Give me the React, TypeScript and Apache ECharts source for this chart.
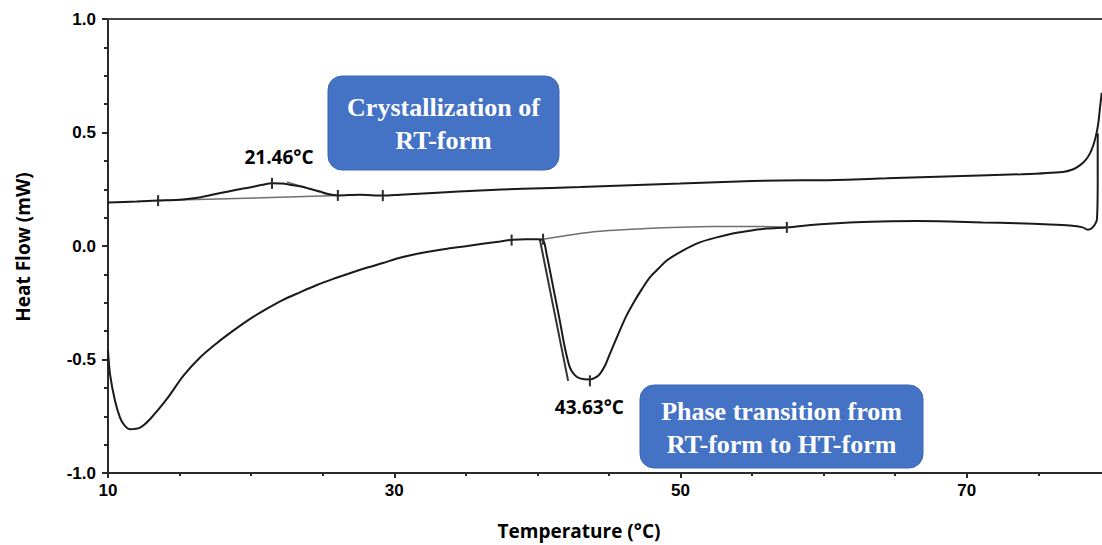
import React, { useEffect, useRef } from "react";
import * as echarts from "echarts";

// ---- Data ----
const xTickLabels = ["10", "30", "50", "70"];
const yTickLabels = ["-1.0", "-0.5", "0.0", "0.5", "1.0"];

// Cooling trace (upper curve): [temperature °C, heat flow mW]
const coolingCurve: [number, number][] = [
  [10, 0.192], [12, 0.196], [13.5, 0.2], [15.2, 0.205], [16.5, 0.215], [17.6, 0.23],
  [19, 0.248], [19.9, 0.258], [20.8, 0.27], [21.46, 0.276], [22.2, 0.275], [22.7, 0.27],
  [23.5, 0.262], [24.1, 0.252], [24.8, 0.24], [25.3, 0.23], [26.06, 0.223], [27.6, 0.226],
  [29.2, 0.222], [30.4, 0.226], [33, 0.235], [36, 0.245], [39, 0.252], [43, 0.26],
  [46, 0.267], [50, 0.275], [53, 0.282], [57, 0.289], [60, 0.29], [64.4, 0.298],
  [69.1, 0.307], [73.8, 0.316], [76.7, 0.326], [77.4, 0.337], [77.9, 0.355], [78.3, 0.378],
  [78.6, 0.407], [78.85, 0.445], [79.06, 0.495], [79.2, 0.545], [79.29, 0.598], [79.43, 0.675],
];

// Heating trace (lower curve)
const heatingCurve: [number, number][] = [
  [10, -0.46], [10.14, -0.564], [10.49, -0.682], [10.84, -0.756], [11.15, -0.79], [11.54, -0.807],
  [12.24, -0.8], [12.93, -0.763], [14.1, -0.675], [15.26, -0.572], [16.43, -0.491], [17.6, -0.428],
  [18.75, -0.373], [19.9, -0.322], [21.08, -0.277], [22.2, -0.238], [23.41, -0.204], [24.6, -0.172],
  [25.74, -0.145], [26.9, -0.12], [28.07, -0.096], [29.2, -0.075], [30.4, -0.052], [31.8, -0.032],
  [33.7, -0.012], [35.1, 0.0], [36.3, 0.011], [37.4, 0.02], [38.3, 0.028], [39.2, 0.03],
  [40.0, 0.03], [40.4, 0.026], [40.64, -0.034], [41.1, -0.18], [41.57, -0.33], [41.92, -0.447],
  [42.27, -0.535], [42.6, -0.568], [42.97, -0.583], [43.67, -0.588], [44.05, -0.58], [44.36, -0.564],
  [44.7, -0.53], [45.06, -0.476], [45.65, -0.388], [46.2, -0.31], [46.67, -0.255], [47.3, -0.19],
  [47.86, -0.138], [48.5, -0.097], [49.04, -0.064], [50.16, -0.02], [51.35, 0.016], [52.54, 0.038],
  [53.65, 0.055], [54.6, 0.065], [56.03, 0.077], [57.43, 0.082], [59.52, 0.095], [61.83, 0.104],
  [64, 0.108], [66.51, 0.11], [68.8, 0.108], [71.12, 0.104], [73.5, 0.1], [75.8, 0.095],
  [77.2, 0.09], [78.1, 0.082], [78.45, 0.072], [78.8, 0.082], [79.1, 0.12], [79.15, 0.3],
  [79.15, 0.497],
];

// Integration baselines and tangent construction lines
const crystBaseline: [number, number][] = [[13.5, 0.2], [26.06, 0.222]];
const crystTangent: [number, number][] = [[22.5, 0.282], [24.8, 0.238]];
const transBaseline: [number, number][] = [
  [40.4, 0.03], [42.97, 0.055], [45, 0.068], [47.6, 0.077], [50, 0.083], [52.3, 0.086], [55, 0.086], [57.43, 0.083],
];
const transTangent: [number, number][] = [[40.17, 0.03], [42.15, -0.594]];

// Analysis tick marks on the curves
const analysisTicks: [number, number][] = [
  [13.5, 0.2], [21.46, 0.276], [26.06, 0.223], [29.2, 0.222],
  [38.2, 0.026], [40.4, 0.03], [43.67, -0.594], [57.43, 0.082],
];

// Peak temperatures
const peakLabels = [
  { name: "21.46°C", value: [21.46, 0.276] as [number, number], side: "top" },
  { name: "43.63°C", value: [43.63, -0.59] as [number, number], side: "bottom" },
];

const annotations = [
  "Crystallization of\nRT-form",
  "Phase transition from\nRT-form to HT-form",
];

export default function App() {
  const ref = useRef<HTMLDivElement>(null);

  useEffect(() => {
    if (!ref.current) return;
    document.body.style.margin = "0";
    const chart = echarts.init(ref.current, undefined, { renderer: "svg" });
    const axisColor = "#2a2a2a";
    const curveColor = "#1a1a1a";
    const guideColor = "#6e6e6e";
    const sansBold = { fontFamily: "'Liberation Sans', Arial, sans-serif", fontWeight: "bold" as const };

    chart.setOption({
      animation: false,
      backgroundColor: "#ffffff",
      // x axis spans 10..90 so that the visible part ends near 79.4 °C at the right edge
      grid: {
        left: 108,
        width: 1145,
        top: 19,
        bottom: 72,
        containLabel: false,
        outerBoundsMode: "none",
      },
      xAxis: [
        {
          type: "value",
          min: 10,
          max: 90,
          interval: 20,
          axisLine: { show: true, onZero: false, lineStyle: { color: axisColor, width: 2 } },
          axisTick: { show: true, length: 5, lineStyle: { color: axisColor, width: 2 } },
          minorTick: { show: true, splitNumber: 4, length: 3, lineStyle: { color: axisColor, width: 2 } },
          splitLine: { show: false },
          axisLabel: {
            ...sansBold,
            fontSize: 17,
            color: "#000",
            margin: 9,
            formatter: (v: number) => (xTickLabels.includes(String(v)) ? String(v) : ""),
          },
        },
        {
          type: "value",
          position: "top",
          min: 10,
          max: 90,
          axisLine: { show: true, onZero: false, lineStyle: { color: "#444", width: 2 } },
          axisTick: { show: false },
          axisLabel: { show: false },
          splitLine: { show: false },
        },
      ],
      yAxis: {
        type: "value",
        min: -1,
        max: 1,
        interval: 0.5,
        axisLine: { show: true, onZero: false, lineStyle: { color: axisColor, width: 2 } },
        axisTick: { show: true, length: 6, lineStyle: { color: axisColor, width: 2 } },
        minorTick: { show: true, splitNumber: 4, length: 4, lineStyle: { color: axisColor, width: 2 } },
        splitLine: { show: false },
        axisLabel: {
          ...sansBold,
          fontSize: 17,
          color: "#000",
          margin: 12,
          formatter: (v: number) => {
            const s = v.toFixed(1);
            return yTickLabels.includes(s) ? s : "";
          },
        },
      },
      series: [
        {
          name: "Cooling",
          type: "line",
          data: coolingCurve,
          showSymbol: false,
          smooth: 0.3,
          lineStyle: { color: curveColor, width: 2 },
          z: 5,
        },
        {
          name: "Heating",
          type: "line",
          data: heatingCurve,
          showSymbol: false,
          smooth: 0.3,
          lineStyle: { color: curveColor, width: 2 },
          z: 5,
        },
        {
          name: "Crystallization baseline",
          type: "line",
          data: crystBaseline,
          showSymbol: false,
          lineStyle: { color: guideColor, width: 1.5 },
          z: 3,
        },
        {
          name: "Crystallization tangent",
          type: "line",
          data: crystTangent,
          showSymbol: false,
          lineStyle: { color: guideColor, width: 1.5 },
          z: 3,
        },
        {
          name: "Transition baseline",
          type: "line",
          data: transBaseline,
          showSymbol: false,
          smooth: 0.3,
          lineStyle: { color: guideColor, width: 1.5 },
          z: 3,
        },
        {
          name: "Transition tangent",
          type: "line",
          data: transTangent,
          showSymbol: false,
          lineStyle: { color: "#333", width: 2 },
          z: 4,
        },
        {
          name: "Ticks",
          type: "scatter",
          data: analysisTicks,
          symbol: "rect",
          symbolSize: [2, 11],
          itemStyle: { color: "#2a2a2a", opacity: 1 },
          z: 6,
        },
        {
          name: "Peaks",
          type: "scatter",
          symbolSize: 0,
          itemStyle: { opacity: 1 },
          data: peakLabels.map((p) => ({
            name: p.name,
            value: p.value,
            label: {
              show: true,
              position: p.side,
              distance: p.side === "top" ? 17 : 18,
              offset: p.side === "top" ? [7, 0] : [0, 0],
              formatter: "{b}",
              fontFamily: "'Open Sans', sans-serif",
              fontWeight: "bold",
              fontSize: 19,
              color: "#000",
              opacity: 1,
            },
          })),
          z: 7,
        },
      ],
      graphic: [
        {
          type: "rect",
          shape: { x: 328, y: 76, width: 231, height: 94, r: 14 },
          style: { fill: "#4472C4", stroke: "#3b66b5", lineWidth: 1 },
          z: 10,
        },
        {
          type: "text",
          x: 443.5,
          y: 124,
          style: {
            text: annotations[0],
            fill: "#ffffff",
            font: "bold 26px 'Liberation Serif', 'Times New Roman', serif",
            lineHeight: 33,
            align: "center",
            verticalAlign: "middle",
          },
          z: 11,
        },
        {
          type: "rect",
          shape: { x: 640, y: 385, width: 283, height: 83, r: 14 },
          style: { fill: "#4472C4", stroke: "#3b66b5", lineWidth: 1 },
          z: 10,
        },
        {
          type: "text",
          x: 781.5,
          y: 427.5,
          style: {
            text: annotations[1],
            fill: "#ffffff",
            font: "bold 26px 'Liberation Serif', 'Times New Roman', serif",
            lineHeight: 33,
            align: "center",
            verticalAlign: "middle",
          },
          z: 11,
        },
        {
          type: "text",
          x: 579,
          y: 531,
          style: {
            text: "Temperature (°C)",
            fill: "#000",
            font: "bold 19px 'Open Sans', sans-serif",
            align: "center",
            verticalAlign: "middle",
          },
        },
        {
          type: "text",
          x: 23,
          y: 247,
          rotation: Math.PI / 2,
          style: {
            text: "Heat Flow (mW)",
            fill: "#000",
            font: "bold 19px 'Open Sans', sans-serif",
            align: "center",
            verticalAlign: "middle",
          },
        },
      ],
    });

    return () => chart.dispose();
  }, []);

  return (
    <div
      ref={ref}
      style={{ position: "fixed", left: 0, top: 0, width: 1102, height: 545, overflow: "hidden", background: "#fff" }}
    />
  );
}
